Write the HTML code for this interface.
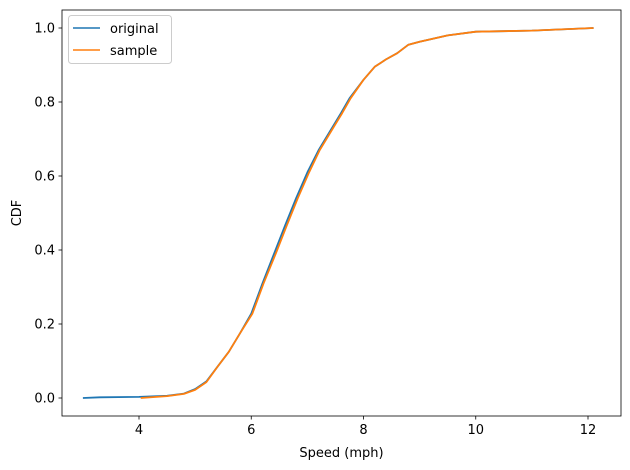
<!DOCTYPE html>
<html><head><meta charset="utf-8"><style>
html,body{margin:0;padding:0;background:#fff;}
svg{display:block;font-family:"DejaVu Sans","Liberation Sans",sans-serif;}
</style></head><body>
<svg id="chart" width="630" height="470"></svg>
<script>
const xTicks=[4,6,8,10,12];
const yTicks=[0,0.2,0.4,0.6,0.8,1.0];
const yTickLabels=["0.0","0.2","0.4","0.6","0.8","1.0"];
const origX=[3.0,3.3,4.0,4.5,4.8,5.0,5.2,5.4,5.6,5.8,6.0,6.2,6.42,6.6,6.8,7.0,7.2,7.4,7.6,7.75,8.0,8.2,8.4,8.6,8.8,9.0,9.5,10,11,12.1];
const origY=[0,0.002,0.003,0.006,0.012,0.024,0.045,0.085,0.125,0.175,0.228,0.31,0.395,0.465,0.54,0.61,0.67,0.72,0.77,0.81,0.86,0.895,0.915,0.932,0.955,0.963,0.98,0.99,0.993,1.0];
const sampX=[4.03,4.5,4.8,5.0,5.2,5.4,5.6,5.8,6.02,6.22,6.45,6.63,6.83,7.03,7.22,7.42,7.62,7.77,8.0,8.2,8.4,8.6,8.8,9.0,9.5,10,11,12.1];
const sampY=[0,0.005,0.011,0.022,0.043,0.085,0.125,0.175,0.228,0.31,0.395,0.465,0.54,0.61,0.67,0.72,0.77,0.81,0.86,0.895,0.915,0.932,0.955,0.963,0.98,0.99,0.993,1.0];
const NS="http://www.w3.org/2000/svg";
const svg=document.getElementById('chart');
const L=62,R=621,T=10,B=416;
const sx=v=>139+(v-4)*(588-139)/8;
const sy=v=>398-v*370;
function mk(tag,attrs,parent){const e=document.createElementNS(NS,tag);for(const k in attrs)e.setAttribute(k,attrs[k]);(parent||svg).appendChild(e);return e;}
function series(xs,ys,color,name){
  const d=xs.map((x,i)=>(i?'L':'M')+sx(x).toFixed(1)+','+sy(ys[i]).toFixed(1)).join(' ');
  const p=mk('path',{d:d,fill:'none',stroke:color,'stroke-width':1.8,'stroke-linejoin':'round'});
  
  
}
series(origX,origY,'#1f77b4','original-line');
series(sampX,sampY,'#ff7f0e','sample-line');
const frame=mk('rect',{x:L,y:T,width:R-L,height:B-T,fill:'none',stroke:'#000','stroke-width':0.8});


xTicks.forEach(v=>{
  const x=sx(v);
  mk('line',{x1:x,x2:x,y1:B,y2:B+3.5,stroke:'#000','stroke-width':0.8});
  const t=mk('text',{x:x,y:B+18,'text-anchor':'middle','font-size':'13px',fill:'#000'});
  t.textContent=String(v);
  
  
});
yTicks.forEach((v,i)=>{
  const y=sy(v);
  mk('line',{x1:L-3.5,x2:L,y1:y,y2:y,stroke:'#000','stroke-width':0.8});
  const t=mk('text',{x:L-7,y:y+4.5,'text-anchor':'end','font-size':'13px',fill:'#000'});
  t.textContent=yTickLabels[i];
  
  
});
const xl=mk('text',{x:(L+R)/2,y:457,'text-anchor':'middle','font-size':'13px'});
xl.textContent='Speed (mph)';


const yl=mk('text',{x:0,y:0,'text-anchor':'middle','font-size':'13px',transform:'translate(21,213) rotate(-90)'});
yl.textContent='CDF';


const lg=mk('g',{});


mk('rect',{x:68.5,y:15.5,width:103,height:48,rx:3,fill:'#fff','fill-opacity':0.8,stroke:'#ccc','stroke-width':1},lg);
[['original','#1f77b4',28],['sample','#ff7f0e',50]].forEach(([n,c,y])=>{
  const g=mk('g',{},lg);
  
  
  mk('line',{x1:73,x2:100,y1:y,y2:y,stroke:c,'stroke-width':1.5},g);
  const t=mk('text',{x:110,y:y+5,'font-size':'13px'},g);
  t.textContent=n;
});
</script>
</body></html>
